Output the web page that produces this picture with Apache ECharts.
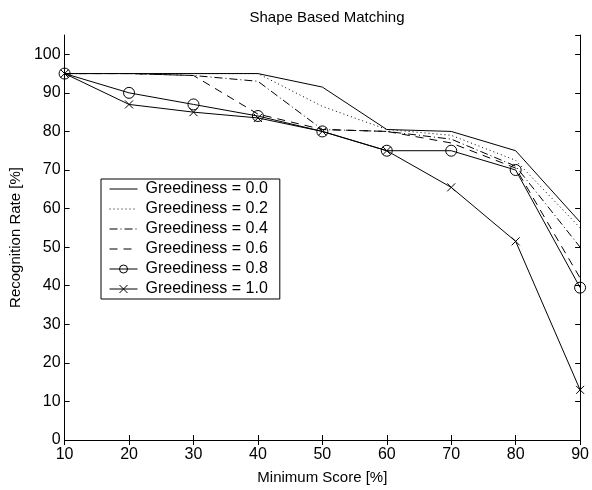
<!DOCTYPE html>
<html><head><meta charset="utf-8">
<script src="https://cdn.jsdelivr.net/npm/echarts@6/dist/echarts.min.js"></script>
<style>html,body{margin:0;padding:0;background:#fff}#c{width:592px;height:490px}</style>
</head><body><div id="c"></div>
<script>
const minScore = [10, 20, 30, 40, 50, 60, 70, 80, 90];
const g00 = [95, 95, 95, 95, 91.5, 80.5, 80, 75, 56.5];
const g02 = [95, 95, 95, 95, 86.5, 80.5, 79, 72.5, 55];
const g04 = [95, 95, 94.5, 93, 80.5, 80, 78, 71, 50];
const g06 = [95, 95, 94.5, 84.5, 80.5, 80, 77, 70.5, 42];
const g08 = [95, 90, 87, 84, 80, 75, 75, 70, 39.5];
const g10 = [95, 87, 85, 83.5, 80, 75, 65.5, 51.5, 13];
const names = ['Greediness = 0.0','Greediness = 0.2','Greediness = 0.4','Greediness = 0.6','Greediness = 0.8','Greediness = 1.0'];

const font = 'Liberation Sans, Arial, Helvetica, sans-serif';
const pair = arr => minScore.map((x, i) => [x, arr[i]]);
const circlePath = 'path://M10,5A5,5,0,1,1,0,5A5,5,0,1,1,10,5Z';
const crossPath = 'path://M0,0L10,10M10,0L0,10';
const styles = [
  {type: 'solid', symbol: 'none'},
  {type: [1, 3], symbol: 'none'},
  {type: [8, 3, 1, 3], symbol: 'none'},
  {type: [8, 6], symbol: 'none'},
  {type: 'solid', symbol: circlePath, size: 11},
  {type: 'solid', symbol: crossPath, size: 8}
];
const datas = [g00, g02, g04, g06, g08, g10];
const series = datas.map((d, i) => ({
  name: names[i], type: 'line', data: pair(d),
  symbol: styles[i].symbol, symbolSize: styles[i].size || 4,
  showSymbol: styles[i].symbol !== 'none',
  symbolKeepAspect: true,
  lineStyle: {color: '#000', width: 1, type: styles[i].type},
  itemStyle: {color: 'transparent', borderColor: '#000', borderWidth: 1},
  emphasis: {disabled: true}, animation: false
}));

const legendData = names.map((n, i) => (
  i < 4 ? {name: n, itemStyle: {color: 'transparent', borderColor: 'transparent', borderWidth: 0, opacity: 0}}
        : {name: n, itemStyle: {color: 'transparent', borderColor: '#000', borderWidth: 1}}
));

const axisLine = {show: true, lineStyle: {color: '#000', width: 1}};
const tick = {show: true, inside: true, length: 5, lineStyle: {color: '#000'}};
const option = {
  animation: false,
  title: {text: 'Shape Based Matching', left: 322, top: 5, textAlign: 'center',
    textStyle: {fontFamily: font, fontSize: 15, fontWeight: 'normal', color: '#000'}},
  grid: {left: 62, right: 10, top: 35, bottom: 46, show: false},
  legend: {
    data: legendData, orient: 'vertical', left: 101, top: 179,
    backgroundColor: '#fff', borderColor: '#000', borderWidth: 1,
    padding: [2, 12, 2, 8], itemWidth: 28, itemHeight: 10, itemGap: 4,
    lineStyle: {width: 1},
    textStyle: {fontFamily: font, fontSize: 16, color: '#000', padding: [0, 0, 0, 3]},
    selectedMode: false
  },
  xAxis: [
    {type: 'value', min: 10, max: 90, interval: 10, position: 'bottom',
     name: 'Minimum Score [%]', nameLocation: 'middle', nameGap: 30,
     nameTextStyle: {fontFamily: font, fontSize: 15, color: '#000'},
     axisLine, axisTick: tick, splitLine: {show: false},
     axisLabel: {fontFamily: font, fontSize: 16, color: '#000', margin: 7}},
    {type: 'value', min: 10, max: 90, interval: 10, position: 'top',
     axisLine, axisTick: tick, splitLine: {show: false}, axisLabel: {show: false}}
  ],
  yAxis: [
    {type: 'value', min: 0, max: 105, interval: 10, position: 'left',
     name: 'Recognition Rate [%]', nameLocation: 'middle', nameGap: 36,
     nameTextStyle: {fontFamily: font, fontSize: 15, color: '#000'},
     axisLine, axisTick: tick, splitLine: {show: false},
     axisLabel: {fontFamily: font, fontSize: 16, color: '#000', margin: 4, showMaxLabel: false,
       formatter: v => (v > 100 ? '' : String(v))}},
    {type: 'value', min: 0, max: 105, interval: 10, position: 'right',
     axisLine, axisTick: tick, splitLine: {show: false}, axisLabel: {show: false}}
  ],
  series
};
const chart = echarts.init(document.getElementById('c'), null, {renderer: 'canvas'});
chart.setOption(option);
</script></body></html>
